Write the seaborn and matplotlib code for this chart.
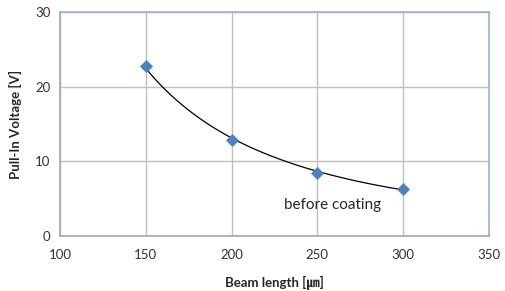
import numpy as np
import pandas as pd
import matplotlib
matplotlib.use('Agg')
import matplotlib.pyplot as plt
import seaborn as sns

# data
beam_length = [150, 200, 250, 300]
pull_in_voltage = [22.8, 12.9, 8.5, 6.3]
x_ticks = [100, 150, 200, 250, 300, 350]
y_ticks = [0, 10, 20, 30]
note = 'before coating'

df = pd.DataFrame({'length': beam_length, 'voltage': pull_in_voltage})

sns.set_style('white')
plt.rcParams['font.family'] = ['Lato', 'Noto Sans CJK JP', 'DejaVu Sans']

fig = plt.figure(figsize=(5.06, 2.91), dpi=100)
ax = fig.add_axes([0.1186, 0.189, 0.8478, 0.7698])

# power trend line (like the Excel trendline)
coef = np.polyfit(np.log(df['length']), np.log(df['voltage']), 1)
xs = np.linspace(df['length'].min(), df['length'].max(), 100)
trend = pd.DataFrame({'length': xs, 'voltage': np.exp(coef[1]) * xs ** coef[0]})
sns.lineplot(data=trend, x='length', y='voltage', ax=ax, color='black', linewidth=0.9, zorder=3)

sns.scatterplot(data=df, x='length', y='voltage', ax=ax, marker='D', s=38,
                color='#4F81BD', edgecolor='#4F81BD', linewidth=0.5, zorder=4)

ax.set_xlim(100, 350)
ax.set_ylim(0, 30)
ax.set_xticks(x_ticks)
ax.set_yticks(y_ticks)
ax.grid(True, color='#BFBFBF', linewidth=1.0)
ax.set_axisbelow(True)

for side in ['left', 'bottom']:
    ax.spines[side].set_color('#A6A6A6')
    ax.spines[side].set_linewidth(1.2)
for side in ['top', 'right']:
    ax.spines[side].set_color('#95B3D7')
    ax.spines[side].set_linewidth(1.2)

ax.tick_params(axis='both', labelsize=9.5, length=0, pad=9)
ax.tick_params(axis='y', pad=7)
for lbl in ax.get_xticklabels() + ax.get_yticklabels():
    lbl.set_color('#333333')

ax.set_xlabel('Beam length [㎛]', fontsize=9.5, fontweight='bold', labelpad=11)
ax.set_ylabel('Pull-In Voltage [V]', fontsize=9.5, fontweight='bold', labelpad=9)

ax.text(259, 4.2, note, fontsize=11, ha='center', va='center', color='#262626')

fig.savefig('out.png', dpi=100)
